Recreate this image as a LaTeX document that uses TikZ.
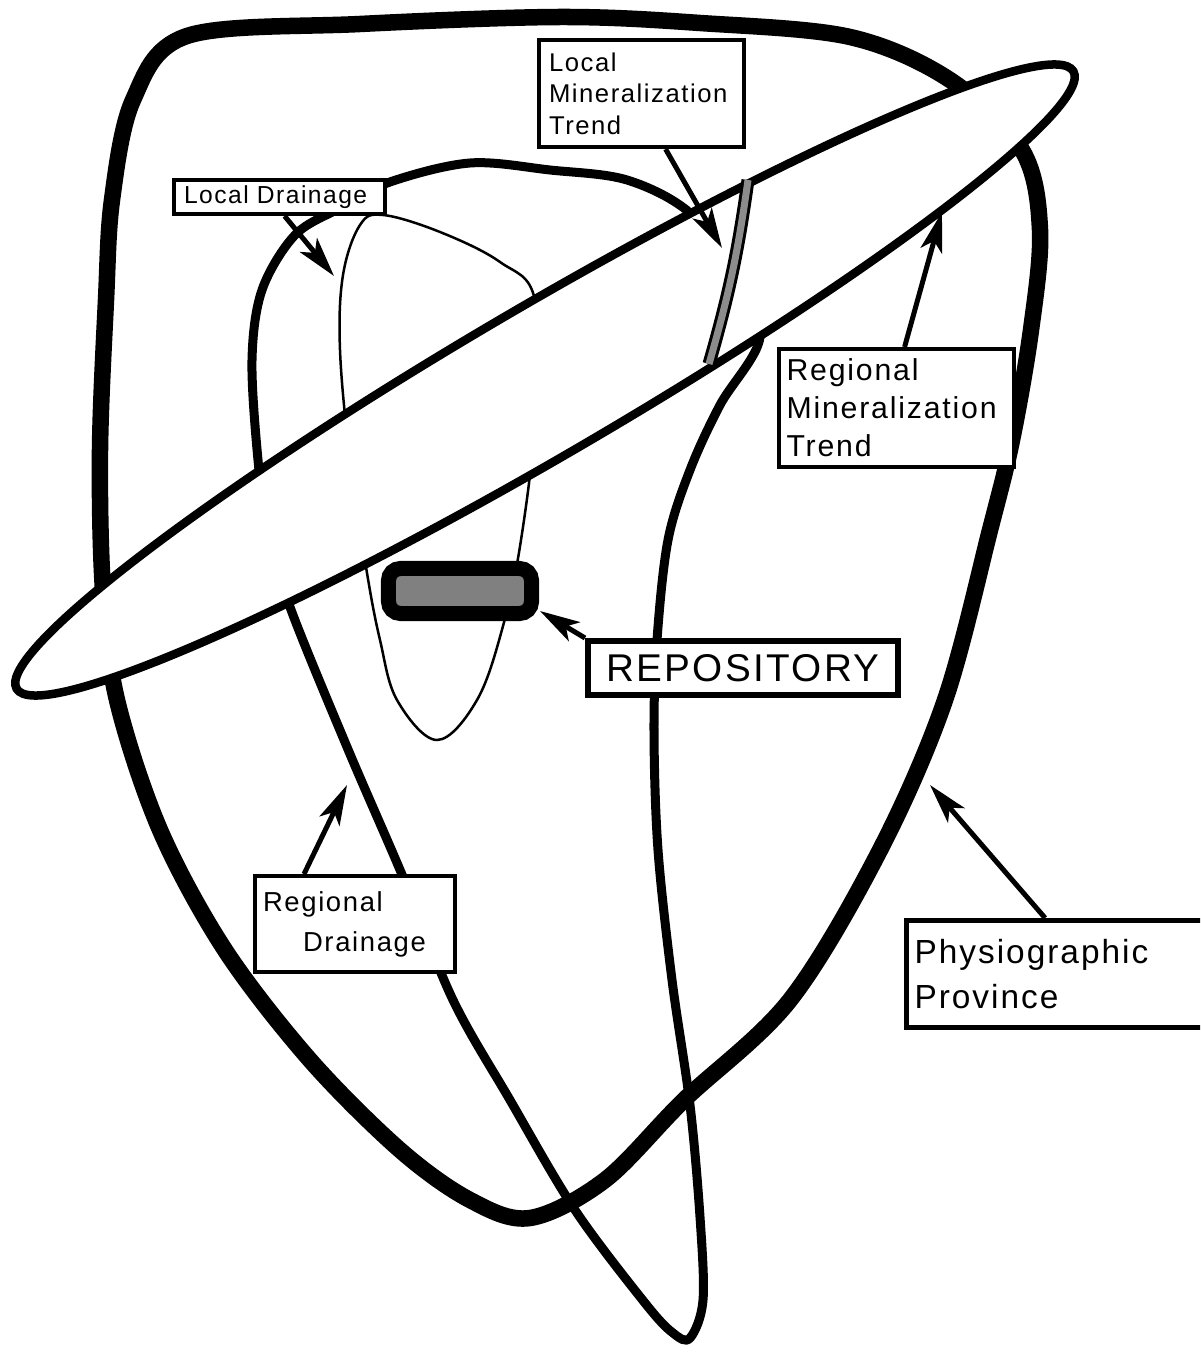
\documentclass[tikz,border=0pt]{standalone}
\usepackage{fontspec}
\setmainfont{Liberation Sans}[LetterSpace=6]
\usetikzlibrary{arrows.meta}

\begin{document}
\begin{tikzpicture}[x=0.01cm, y=-0.01cm,
  tag/.style={draw, line width=0.04cm, fill=white, anchor=north west, align=left, inner ysep=0pt},
  pointer/.style={-{Stealth[length=0.4cm,width=0.22cm,inset=0.1cm]}, line width=0.05cm},
  heavy/.style={line width=0.165cm, line join=round},
  drain/.style={line width=0.09cm}]
  \path[use as bounding box, fill=white] (0,0) rectangle (1200,1355);
  \clip (0,0) rectangle (1200,1355);
  \draw[heavy] plot[smooth cycle, tension=0.55] coordinates {(187,36) (360,24) (560,17) (700,23) (850,37) (950,80) (1022,150) (1040,230) (1031,330) (1012,440) (990,530) (945,700) (880,850) (790,1000) (684,1100) (605,1180) (530,1218) (470,1200) (400,1150) (310,1060) (225,950) (160,830) (117,700) (103,590) (100,450) (106,300) (112,200) (133,100)};
  \draw[drain] plot[smooth cycle, tension=0.55] coordinates {(258,460) (252,360) (262,290) (295,235) (340,208) (390,182) (470,163) (550,170) (627,180) (690,213) (735,275) (760,337) (720,405) (690,470) (668,540) (657,640) (654,733) (658,850) (672,980) (690,1105) (700,1217) (703,1300) (690,1338) (673,1333) (645,1303) (575,1210) (510,1100) (453,1000) (403,877) (347,747) (290,607) (268,530)};
  \draw[line width=0.025cm] plot[smooth cycle, tension=0.6] coordinates {(383,215) (440,232) (500,262) (535,300) (535,420) (521,540) (503,626) (477,700) (437,740) (397,700) (380,640) (367,573) (350,460) (340,350) (343,275) (360,225)};
  \draw[line width=0.085cm, fill=white, rotate around={30.3:(545,380)}] (545,380) ellipse (612 and 75);
  \coordinate (lmtop) at (748,180);
  \coordinate (lmbot) at (709,364);
  \draw[line width=0.03cm, double=black!45, double distance=0.07cm] (lmtop) to[bend left=4] (lmbot);
  \node[draw, line width=0.15cm, fill=black!50, rounded corners=0.12cm, minimum width=1.43cm, minimum height=0.45cm, inner sep=0pt] (repo) at (460,591) {};
  \node[tag, text width=1.91cm, inner xsep=0.1cm, minimum height=0.34cm, font=\fontsize{7}{8}\selectfont] (ldbox) at (172,178) {Local Drainage};
  \node[tag, text width=1.85cm, inner xsep=0.1cm, minimum height=1.07cm, font=\fontsize{7.3}{9}\selectfont] (lmbox) at (537,38) {Local\\Mineralization\\Trend};
  \node[tag, text width=2.2cm, inner xsep=0.075cm, minimum height=1.18cm, font=\fontsize{8.6}{10.8}\selectfont] (rmbox) at (777,347) {Regional\\Mineralization\\Trend};
  \node[tag, line width=0.055cm, align=center, text width=2.8cm, inner xsep=0.15cm, minimum height=0.54cm, font=\fontsize{11}{13}\selectfont] (repbox) at (585,638) {REPOSITORY};
  \node[tag, text width=1.84cm, inner xsep=0.08cm, minimum height=0.96cm, font=\fontsize{7.8}{11.4}\selectfont] (rdbox) at (253,874) {Regional\\\hspace*{0.4cm}Drainage};
  \node[tag, line width=0.05cm, text width=2.9cm, inner xsep=0.08cm, minimum height=1.07cm, font=\fontsize{9.5}{12.8}\selectfont] (ppbox) at (904,918) {Physiographic\\Province};
  \coordinate (ldtip) at (334,276);
  \coordinate (lmtip) at (722,248);
  \coordinate (rmtip) at (942,212);
  \coordinate (reptip) at (540,611);
  \coordinate (rdtip) at (347,785);
  \coordinate (pptip) at (930,785);
  \draw[pointer] ([xshift=0.05cm]ldbox.south) -- (ldtip);
  \draw[pointer] ([xshift=0.24cm]lmbox.south) -- (lmtip);
  \draw[pointer] ([xshift=0.08cm]rmbox.north) -- (rmtip);
  \draw[pointer] (repbox.north west) -- (reptip);
  \draw[pointer] ([xshift=-0.51cm]rdbox.north) -- (rdtip);
  \draw[pointer] ([xshift=1.41cm]ppbox.north west) -- (pptip);
\end{tikzpicture}
\end{document}
